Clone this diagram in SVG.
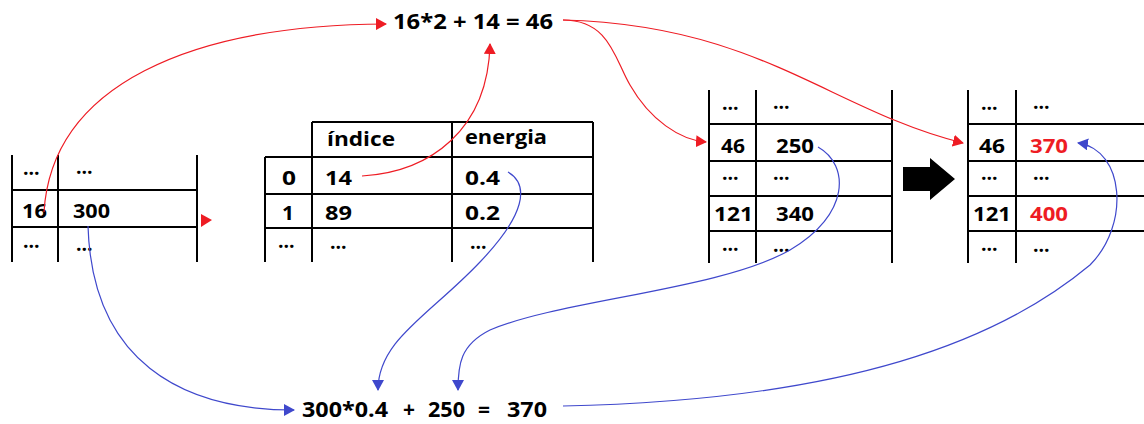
<svg xmlns="http://www.w3.org/2000/svg" width="1144" height="424" viewBox="0 0 1144 424">
<style>
.t{font-family:"Open Sans","Liberation Sans",sans-serif;font-weight:bold;font-size:19.5px;fill:#000}
.eq{font-size:21px}
.red{fill:#ee1c24}
.ln{stroke:#000;stroke-width:2;fill:none}
.rc{stroke:#ee1c24;stroke-width:1.2;fill:none}
.bc{stroke:#3f48cc;stroke-width:1.2;fill:none}
</style>
<defs>
<marker id="ar" markerUnits="userSpaceOnUse" markerWidth="12" markerHeight="12" refX="10" refY="6" orient="auto"><path d="M0,0 L11,6 L0,12 z" fill="#ee1c24"/></marker>
<marker id="ab" markerUnits="userSpaceOnUse" markerWidth="12" markerHeight="12" refX="10" refY="6" orient="auto"><path d="M0,0 L11,6 L0,12 z" fill="#3f48cc"/></marker>
</defs>
<rect width="1144" height="424" fill="#fff"/>

<g id="eq-top">
<text class="t eq" x="393" y="29" textLength="160" lengthAdjust="spacingAndGlyphs">16*2 + 14 = 46</text>
</g>

<g id="table1">
<path class="ln" d="M12,155V262M58,155V262M197,155V262M12,190H197M12,227H197"/>
<text class="t" x="23" y="175">...</text><text class="t" x="76" y="174">...</text>
<text class="t" x="22" y="218" textLength="25" lengthAdjust="spacingAndGlyphs">16</text>
<text class="t" x="73" y="218" textLength="37" lengthAdjust="spacingAndGlyphs">300</text>
<text class="t" x="23" y="248">...</text><text class="t" x="76" y="251">...</text>
</g>

<g id="table2">
<path class="ln" d="M312,122H593M265,157H593M265,194H593M265,228H593M265,157V262M312,122V262M452,122V262M593,122V262"/>
<text class="t" x="327" y="146" textLength="68" lengthAdjust="spacingAndGlyphs">índice</text>
<text class="t" x="465" y="144" textLength="82" lengthAdjust="spacingAndGlyphs">energia</text>
<text class="t" x="282" y="185" textLength="14" lengthAdjust="spacingAndGlyphs">0</text>
<text class="t" x="325" y="185" textLength="27" lengthAdjust="spacingAndGlyphs">14</text>
<text class="t" x="465" y="185" textLength="35" lengthAdjust="spacingAndGlyphs">0.4</text>
<text class="t" x="282" y="220" textLength="12" lengthAdjust="spacingAndGlyphs">1</text>
<text class="t" x="325" y="220" textLength="27" lengthAdjust="spacingAndGlyphs">89</text>
<text class="t" x="465" y="220" textLength="35" lengthAdjust="spacingAndGlyphs">0.2</text>
<text class="t" x="278" y="248">...</text><text class="t" x="330" y="249">...</text><text class="t" x="470" y="249">...</text>
</g>

<g id="table3">
<path class="ln" d="M709,90V263M756,90V263M892,90V263M709,124H892M709,161H892M709,196H892M709,231H892"/>
<text class="t" x="722" y="110">...</text><text class="t" x="773" y="109">...</text>
<text class="t" x="721" y="153" textLength="24" lengthAdjust="spacingAndGlyphs">46</text>
<text class="t" x="776" y="153" textLength="38" lengthAdjust="spacingAndGlyphs">250</text>
<text class="t" x="722" y="180">...</text><text class="t" x="773" y="180">...</text>
<text class="t" x="714" y="221" textLength="39" lengthAdjust="spacingAndGlyphs">121</text>
<text class="t" x="776" y="221" textLength="38" lengthAdjust="spacingAndGlyphs">340</text>
<text class="t" x="722" y="251">...</text><text class="t" x="773" y="252">...</text>
</g>

<g id="big-arrow">
<polygon points="903,167 930,167 930,158 955,179 930,200 930,191 903,191" fill="#000"/>
</g>

<g id="table4">
<path class="ln" d="M968,90V263M1016,90V263M968,124H1144M968,161H1144M968,196H1144M968,231H1144"/>
<text class="t" x="981" y="110">...</text><text class="t" x="1033" y="109">...</text>
<text class="t" x="979" y="153" textLength="26" lengthAdjust="spacingAndGlyphs">46</text>
<text class="t red" x="1030" y="153" textLength="38" lengthAdjust="spacingAndGlyphs">370</text>
<text class="t" x="981" y="180">...</text><text class="t" x="1033" y="180">...</text>
<text class="t" x="973" y="221" textLength="38" lengthAdjust="spacingAndGlyphs">121</text>
<text class="t red" x="1030" y="221" textLength="38" lengthAdjust="spacingAndGlyphs">400</text>
<text class="t" x="981" y="251">...</text><text class="t" x="1033" y="252">...</text>
</g>

<g id="eq-bottom">
<text class="t eq" x="302" y="417" textLength="86" lengthAdjust="spacingAndGlyphs">300*0.4</text>
<text class="t eq" x="403" y="417">+</text>
<text class="t eq" x="428" y="417" textLength="37" lengthAdjust="spacingAndGlyphs">250</text>
<text class="t eq" x="478" y="417">=</text>
<text class="t eq" x="507" y="417" textLength="40" lengthAdjust="spacingAndGlyphs">370</text>
</g>

<g id="connectors">
<polygon points="201,214 212,220 201,227" fill="#ee1c24"/>
<path class="rc" marker-end="url(#ar)" d="M44,212 C52,85 190,25 386,24"/>
<path class="rc" marker-end="url(#ar)" d="M362,176 C430,172 488,130 490,44"/>
<path class="rc" marker-end="url(#ar)" d="M563,20 C610,20 615,60 630,85 C650,120 680,140 706,142"/>
<path class="rc" marker-end="url(#ar)" d="M563,20 C760,25 830,110 963,143"/>
<path class="bc" marker-end="url(#ab)" d="M88,226 C92,360 180,410 294,410"/>
<path class="bc" marker-end="url(#ab)" d="M508,172 C530,185 525,215 480,262 C430,315 378,340 378,390"/>
<path class="bc" marker-end="url(#ab)" d="M818,147 C850,165 850,215 790,250 C720,290 560,300 490,330 C460,345 458,365 458,390"/>
<path class="bc" marker-end="url(#ab)" d="M563,406 C850,400 1000,340 1090,265 C1130,225 1125,150 1078,143"/>
</g>
</svg>
